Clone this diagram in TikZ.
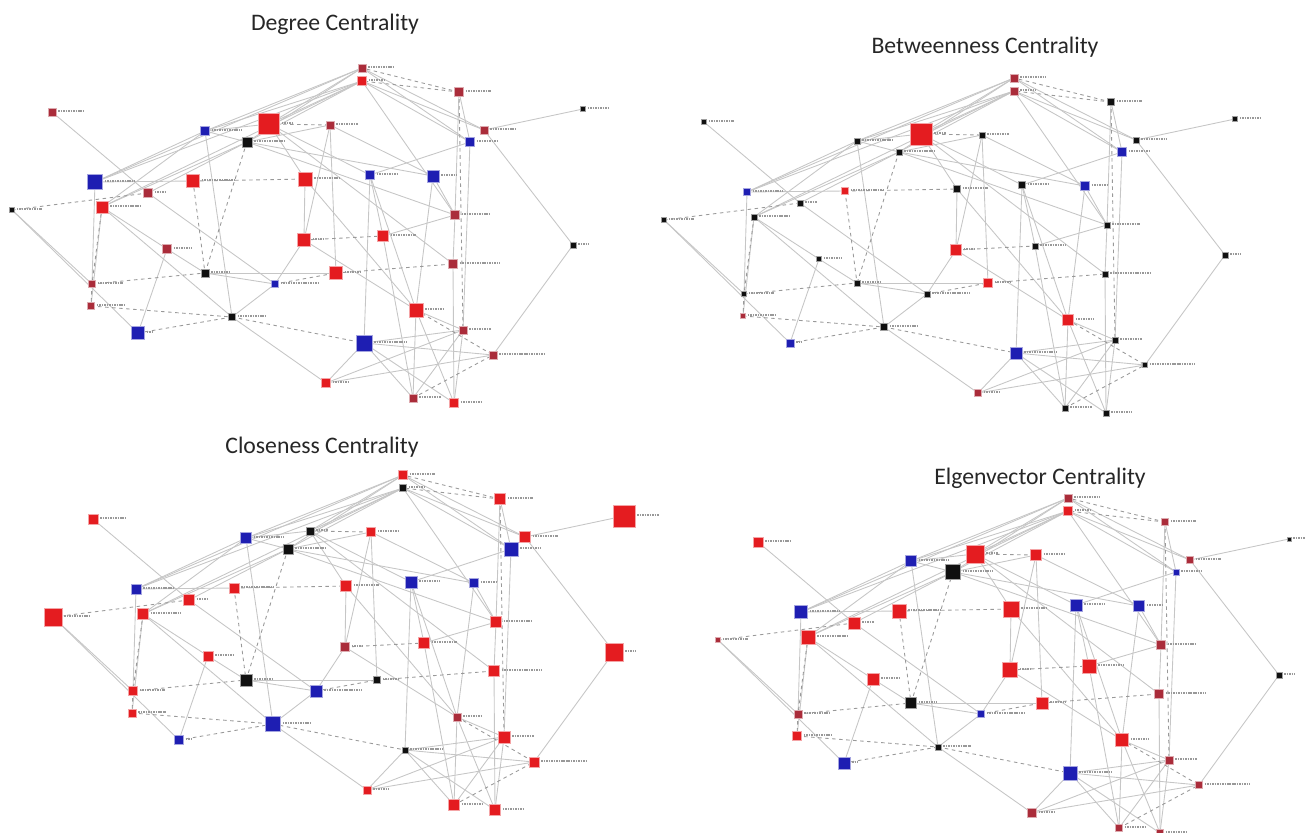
\documentclass[tikz,border=0pt]{standalone}
\usepackage{fontspec}
\setmainfont{Carlito}

\definecolor{vred}{RGB}{228,28,32}
\definecolor{vdull}{RGB}{170,44,58}
\definecolor{vblue}{RGB}{30,30,178}
\definecolor{vblack}{RGB}{16,16,16}

\pgfdeclarelayer{bg}
\pgfsetlayers{bg,main}

% node id / x / y / label length (pixels of the first panel)
\newcommand\netlayout{a/52/112/25, b/205/131/30, c/269/124/12, d/247/142/30,
  e/362/68/25, f/362/81/15, g/459/92/25, h/330/125/22, i/484/130/25,
  j/470/142/20, k/95/182/30, l/193/181/32, m/305/179/25, n/370/175/20,
  o/433/176/15, p/148/193/12, q/102/207/30, r/12/210/25, s/455/215/28,
  t/304/240/12, u/383/236/25, v/167/249/18, w/573/245/10, x/205/273/18,
  y/275/284/38, z/336/273/15, aa/453/264/40, ab/92/284/25, ac/91/306/28,
  ad/138/333/6, ae/232/317/28, af/416/310/18, ag/463/330/22, ah/364/343/32,
  ai/493/355/45, aj/326/383/15, ak/413/398/22, al/454/403/20, am/583/109/22}

\newcommand\solidlinks{a/p, k/e, k/f, q/f, b/e, b/f, d/e, d/f, c/f, c/e,
  e/i, f/i, f/j, e/j, f/s, g/j, g/s, i/w, w/ai, i/am, j/n, j/ag, o/s, o/af,
  n/ah, n/af, m/t, h/t, h/z, c/m, c/aa, d/s, b/ae, k/b, q/b, q/d, p/d, q/v,
  v/ad, v/x, x/y, x/z, k/l, k/ab, q/ac, r/ad, r/ab, ae/aj, ae/y, y/t, t/af,
  u/s, s/aa, m/af, n/u, h/o, c/n, d/o, b/d, d/h, af/ag, af/ak, af/al, ah/ag,
  ah/ai, ah/ak, ah/al, aj/ag, aj/ai, ak/ag, al/ag, aa/al, ah/aj, q/ae, p/y,
  b/c, u/ak}

\newcommand\dashlinks{g/e, g/f, g/ag, c/h, d/x, l/x, l/m, q/ab, ab/ac, r/p,
  ab/x, ac/ae, ad/ae, ae/ah, y/z, z/aa, t/u, af/ai, ak/ai}

\tikzset{
  vtx/.style = {rectangle, inner sep=0pt, fill=#1, draw=#1!40, line width=0.4pt},
  link/.style = {draw=gray!45, line width=0.5pt},
  dlink/.style = {draw=black!40, line width=0.5pt, dash pattern=on 2pt off 2pt},
  tagmark/.style = {draw=black!40, line width=1.1pt, dash pattern=on 0.9pt off 0.5pt},
  heading/.style = {font=\fontsize{13.5}{16}\selectfont, text=black!85}
}

% one network panel: prefix, shift, id/size/colour list
\newcommand\centralitynet[3]{%
  \begin{scope}[shift={#2}, name prefix=#1-]
    \foreach \id/\px/\py/\len in \netlayout {\coordinate (at\id) at (\px,\py);}
    \foreach \id/\sz/\col in {#3} {
      \node[vtx=\col, minimum size=\sz*0.2mm] (\id) at (at\id) {};
    }
    \begin{pgfonlayer}{bg}
      \foreach \u/\v in \solidlinks {\draw[link] (\u.center) -- (\v.center);}
      \foreach \u/\v in \dashlinks {\draw[dlink] (\u.center) -- (\v.center);}
    \end{pgfonlayer}
    \foreach \id/\px/\py/\len in \netlayout {
      \draw[tagmark] (\id.east) ++(2,-1) -- ++(\len,0);
    }
  \end{scope}}

\begin{document}
\begin{tikzpicture}[x=0.02cm, y=-0.02cm]
  \useasboundingbox (0,0) rectangle (1305,832);

  \node[heading] (degtitle) at (335,24) {Degree Centrality};
  \node[heading] (bettitle) at (985,47) {Betweenness Centrality};
  \node[heading] (clotitle) at (322,447) {Closeness Centrality};
  \node[heading] (eigtitle) at (1040,478) {Elgenvector Centrality};

  % degree
  \centralitynet{deg}{(0,0)}{a/8/vdull, b/9/vblue, c/21/vred, d/10/vblack,
    e/8/vdull, f/9/vred, g/9/vdull, h/8/vdull, i/8/vdull, j/9/vblue,
    k/15/vblue, l/13/vred, m/14/vred, n/9/vblue, o/12/vblue, p/9/vdull,
    q/12/vred, r/5/vblack, s/9/vdull, t/13/vred, u/11/vred, v/9/vdull,
    w/6/vblack, x/8/vblack, y/7/vblue, z/13/vred, aa/9/vdull, ab/7/vdull,
    ac/7/vdull, ad/13/vblue, ae/7/vblack, af/14/vred, ag/8/vdull, ah/16/vblue,
    ai/8/vdull, aj/9/vred, ak/8/vdull, al/9/vred, am/5/vblack}

  % betweenness
  \centralitynet{bet}{(652,10)}{a/5/vblack, b/6/vblack, c/22/vred, d/6/vblack,
    e/8/vdull, f/8/vdull, g/7/vblack, h/6/vblack, i/6/vblack, j/9/vblue,
    k/7/vblue, l/7/vred, m/7/vblack, n/7/vblack, o/9/vblue, p/6/vblack,
    q/6/vblack, r/5/vblack, s/6/vblack, t/11/vred, u/6/vblack, v/5/vblack,
    w/6/vblack, x/6/vblack, y/6/vblack, z/9/vred, aa/6/vblack, ab/5/vblack,
    ac/5/vdull, ad/8/vblue, ae/7/vblack, af/11/vred, ag/6/vblack, ah/12/vblue,
    ai/5/vblack, aj/7/vdull, ak/6/vblack, al/6/vblack, am/5/vblack}

  % closeness
  \centralitynet{clo}{(41,407)}{a/10/vred, b/11/vblue, c/8/vblack, d/10/vblack,
    e/9/vred, f/7/vblack, g/11/vred, h/9/vred, i/11/vred, j/14/vblue,
    k/10/vblue, l/10/vred, m/11/vred, n/12/vblue, o/9/vblue, p/11/vred,
    q/11/vred, r/18/vred, s/11/vred, t/9/vdull, u/11/vred, v/10/vred,
    w/18/vred, x/12/vblack, y/12/vblue, z/7/vblack, aa/11/vred, ab/9/vred,
    ac/8/vred, ad/9/vblue, ae/15/vblue, af/8/vdull, ag/12/vred, ah/6/vblack,
    ai/10/vred, aj/8/vred, ak/11/vred, al/11/vred, am/22/vred}

  % eigenvector
  \centralitynet{eig}{(706,430)}{a/10/vred, b/11/vblue, c/18/vred, d/15/vblack,
    e/8/vdull, f/9/vred, g/7/vdull, h/11/vred, i/7/vdull, j/6/vblue,
    k/13/vblue, l/14/vred, m/16/vred, n/12/vblue, o/11/vblue, p/12/vred,
    q/14/vred, r/5/vdull, s/9/vdull, t/15/vred, u/14/vred, v/12/vred,
    w/6/vblack, x/11/vblack, y/7/vblue, z/12/vred, aa/9/vdull, ab/8/vdull,
    ac/9/vred, ad/12/vblue, ae/6/vblack, af/13/vred, ag/8/vdull, ah/14/vblue,
    ai/7/vdull, aj/9/vdull, ak/7/vdull, al/7/vdull, am/4/vblack}
\end{tikzpicture}
\end{document}
